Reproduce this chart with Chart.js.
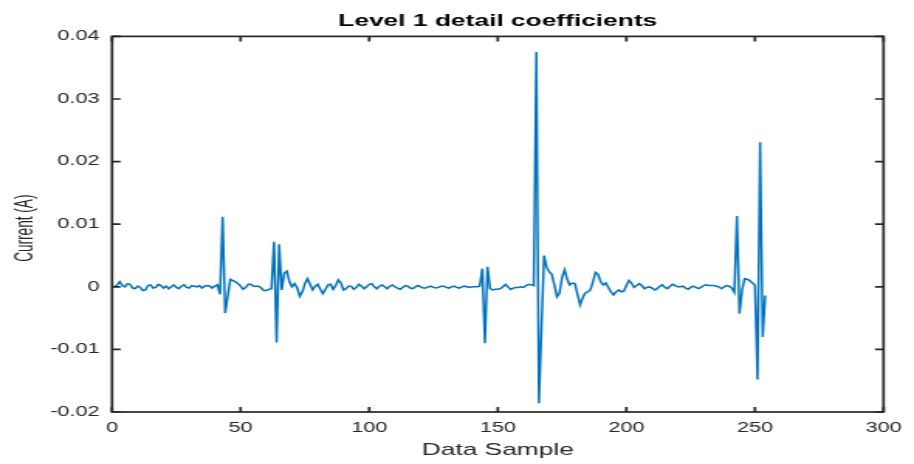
<!DOCTYPE html>
<html lang="en">
<head>
  <meta charset="UTF-8" />
  <title>Level 1 detail coefficients</title>
  <script src="https://cdn.jsdelivr.net/npm/chart.js"></script>
  <style>
    body {
      margin: 0;
      background: #fff;
    }
    /* the picture is wider than the figure it came from, so the canvas is stretched sideways */
    #detailChart {
      display: block;
      width: 914px !important;
      height: 464px !important;
    }
  </style>
</head>
<body>
  <canvas id="detailChart" width="590" height="464" style="width:914px;height:464px"></canvas>

  <script>
    // detail coefficients, one value per sample (sample 1 .. 254)
    const coefficients = [
      0.0000, 0.0003, 0.0008, 0.0002, 0.0000, 0.0005, 0.0004, -0.0002, -0.0003, 0.0001,
      -0.0001, -0.0006, -0.0005, 0.0002, 0.0003, -0.0002, -0.0001, 0.0004, 0.0002, -0.0002,
      0.0001, -0.0003, 0.0000, 0.0003, -0.0001, -0.0003, 0.0001, 0.0003, -0.0001, -0.0002,
      0.0002, 0.0001, 0.0000, 0.0002, -0.0002, 0.0001, 0.0002, 0.0001, -0.0002, 0.0001,
      0.0003, -0.0012, 0.0112, -0.0042, -0.0015, 0.0012, 0.0010, 0.0008, 0.0005, 0.0001,
      -0.0004, -0.0001, 0.0004, 0.0004, 0.0001, 0.0001, 0.0001, -0.0002, -0.0006, -0.0006,
      -0.0004, -0.0003, 0.0072, -0.0089, 0.0068, -0.0005, 0.0022, 0.0025, 0.0008, 0.0000,
      0.0005, -0.0002, -0.0015, -0.0008, 0.0005, 0.0013, 0.0004, -0.0005, 0.0001, 0.0004,
      -0.0004, -0.0011, -0.0004, 0.0003, 0.0004, -0.0004, 0.0002, 0.0011, 0.0006, -0.0005,
      -0.0003, 0.0001, 0.0001, -0.0004, -0.0001, 0.0004, 0.0001, -0.0003, 0.0000, 0.0004,
      0.0005, 0.0000, -0.0003, 0.0001, 0.0003, 0.0000, -0.0003, 0.0001, 0.0003, 0.0000,
      -0.0002, -0.0004, -0.0001, 0.0002, 0.0001, -0.0002, -0.0003, 0.0000, 0.0002, 0.0000,
      -0.0002, -0.0002, 0.0000, 0.0001, -0.0001, -0.0002, -0.0001, 0.0001, 0.0001, -0.0001,
      -0.0002, 0.0000, 0.0001, -0.0001, -0.0002, 0.0000, 0.0001, 0.0000, -0.0001, 0.0000,
      0.0000, 0.0000, 0.0001, 0.0029, -0.0090, 0.0032, -0.0003, -0.0005, -0.0004, -0.0004,
      -0.0003, 0.0000, 0.0004, 0.0000, -0.0004, -0.0002, -0.0001, -0.0001, 0.0000, -0.0001,
      0.0002, 0.0004, 0.0003, 0.0002, 0.0375, -0.0186, -0.0065, 0.0050, 0.0031, 0.0024,
      0.0020, 0.0003, -0.0016, -0.0010, 0.0015, 0.0027, 0.0012, 0.0003, 0.0006, 0.0005,
      -0.0012, -0.0029, -0.0018, -0.0010, -0.0008, -0.0005, 0.0008, 0.0023, 0.0020, 0.0008,
      0.0003, 0.0006, -0.0001, -0.0008, -0.0013, -0.0008, -0.0005, -0.0008, -0.0007, 0.0002,
      0.0010, 0.0006, -0.0001, 0.0002, 0.0005, 0.0002, -0.0003, -0.0001, 0.0000, -0.0002,
      -0.0005, -0.0003, 0.0001, 0.0003, -0.0001, -0.0003, 0.0001, 0.0004, 0.0002, 0.0000,
      0.0000, 0.0001, -0.0002, -0.0004, -0.0001, 0.0001, -0.0001, -0.0003, -0.0001, 0.0002,
      0.0003, 0.0002, 0.0002, 0.0002, 0.0001, 0.0000, -0.0003, 0.0000, 0.0002, 0.0001,
      -0.0002, -0.0009, 0.0113, -0.0043, -0.0005, 0.0013, 0.0012, 0.0010, 0.0006, 0.0003,
      -0.0148, 0.0231, -0.0080, -0.0014
    ];
    const xTicks = [0, 50, 100, 150, 200, 250, 300];
    const yTicks = [-0.02, -0.01, 0, 0.01, 0.02, 0.03, 0.04];

    const axisColor = '#262626';
    const fontFamily = '"Liberation Sans", Arial, Helvetica, sans-serif';
    Chart.defaults.font.family = fontFamily;
    Chart.defaults.color = axisColor;

    // box round the plot with inward ticks on all four sides, and the rotated y label
    const matlabAxes = {
      id: 'matlabAxes',
      afterDraw(chart) {
        const { ctx, chartArea: a, scales: { x, y } } = chart;
        ctx.save();
        ctx.strokeStyle = axisColor;
        ctx.lineWidth = 1.7;
        ctx.strokeRect(a.left, a.top, a.right - a.left, a.bottom - a.top);
        ctx.beginPath();
        x.ticks.forEach(t => {
          const px = x.getPixelForValue(t.value);
          ctx.moveTo(px, a.bottom); ctx.lineTo(px, a.bottom - 5);
          ctx.moveTo(px, a.top); ctx.lineTo(px, a.top + 5);
        });
        y.ticks.forEach(t => {
          const py = y.getPixelForValue(t.value);
          ctx.moveTo(a.left, py); ctx.lineTo(a.left + 5.5, py);
          ctx.moveTo(a.right, py); ctx.lineTo(a.right - 5.5, py);
        });
        ctx.stroke();

        ctx.translate(16, (a.top + a.bottom) / 2 + 4);
        ctx.rotate(-Math.PI / 2);
        ctx.scale(0.8, 1);
        ctx.fillStyle = axisColor;
        ctx.font = '17px ' + fontFamily;
        ctx.textAlign = 'center';
        ctx.textBaseline = 'middle';
        ctx.fillText('Current (A)', 0, 0);
        ctx.restore();
      }
    };

    new Chart(document.getElementById('detailChart'), {
      type: 'line',
      data: {
        datasets: [{
          data: coefficients.map((v, i) => ({ x: i + 1, y: v })),
          borderColor: '#0072BD',
          borderWidth: 1.5,
          pointRadius: 0,
          tension: 0,
          fill: false
        }]
      },
      options: {
        responsive: false,
        devicePixelRatio: 1,
        animation: false,
        layout: { padding: { right: 19.3 } },
        plugins: {
          legend: { display: false },
          tooltip: { enabled: false },
          title: {
            display: true,
            fullSize: false,
            text: 'Level 1 detail coefficients',
            color: '#000',
            font: { size: 17, weight: 'bold' },
            padding: { top: 11, bottom: 5 }
          }
        },
        scales: {
          x: {
            type: 'linear',
            min: 0,
            max: 300,
            afterBuildTicks: s => { s.ticks = xTicks.map(v => ({ value: v })); },
            afterFit: s => { s.height = 52; },
            grid: { display: false, drawTicks: false },
            border: { display: false },
            ticks: { font: { size: 14 }, padding: 8, maxRotation: 0, autoSkip: false },
            title: {
              display: true,
              text: 'Data Sample',
              font: { size: 17 },
              padding: { top: 0, bottom: 3 }
            }
          },
          y: {
            min: -0.02,
            max: 0.04,
            afterBuildTicks: s => { s.ticks = yTicks.map(v => ({ value: v })); },
            afterFit: s => { s.width = 72.3; },
            grid: { display: false, drawTicks: false },
            border: { display: false },
            ticks: { font: { size: 14 }, padding: 8, callback: v => String(v) }
          }
        }
      },
      plugins: [matlabAxes]
    });
  </script>
</body>
</html>
